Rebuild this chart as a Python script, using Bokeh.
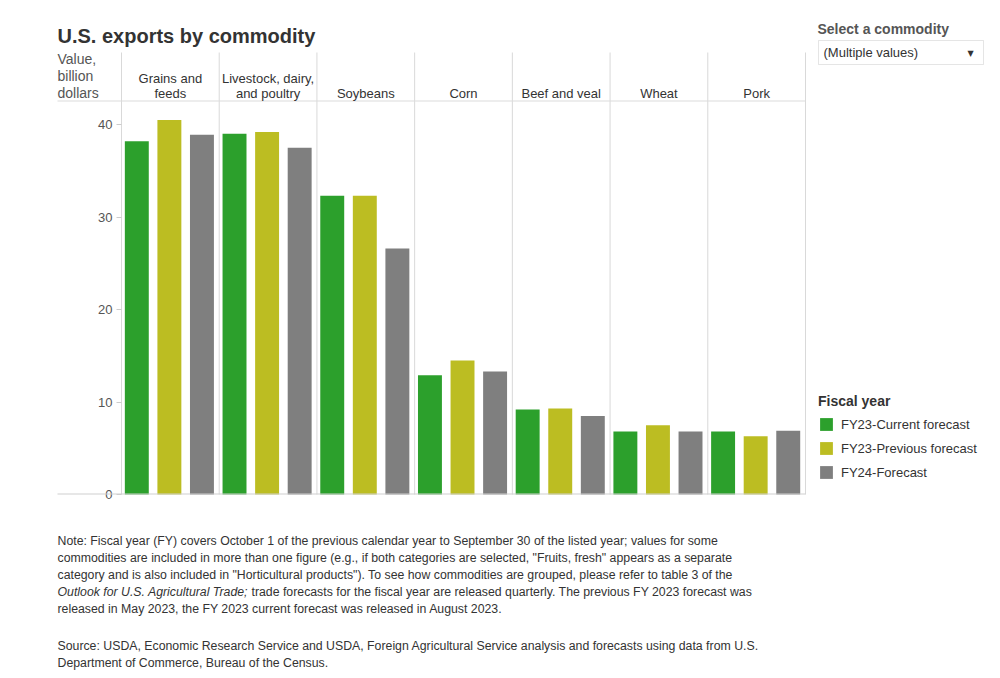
import numpy as np
from bokeh.plotting import figure
from bokeh.models import (Range1d, FixedTicker, Label, BoxAnnotation,
                          Legend, LegendItem, ColumnDataSource)
from bokeh.embed import file_html
from bokeh.resources import INLINE

# ---- data ----
commodities = ["Grains and\nfeeds", "Livestock, dairy,\nand poultry", "Soybeans",
               "Corn", "Beef and veal", "Wheat", "Pork"]
series = ["FY23-Current forecast", "FY23-Previous forecast", "FY24-Forecast"]
fy23_current = [38.2, 39.0, 32.3, 12.9, 9.2, 6.8, 6.8]
fy23_previous = [40.5, 39.2, 32.3, 14.5, 9.3, 7.5, 6.3]
fy24_forecast = [38.9, 37.5, 26.6, 13.3, 8.5, 6.8, 6.9]
y_ticks = [0, 10, 20, 30, 40]
colors = ["#2ca02c", "#bcbd22", "#7f7f7f"]

title_text = "U.S. exports by commodity"
y_title = ["Value,", "billion", "dollars"]
note_lines = [
    "Note: Fiscal year (FY) covers October 1 of the previous calendar year to September 30 of the listed year; values for some",
    "commodities are included in more than one figure (e.g., if both categories are selected, \"Fruits, fresh\" appears as a separate",
    "category and is also included in \"Horticultural products\"). To see how commodities are grouped, please refer to table 3 of the",
    None,
    "released in May 2023, the FY 2023 current forecast was released in August 2023.",
]
note_italic = "Outlook for U.S. Agricultural Trade;"
note_after_italic = "trade forecasts for the fiscal year are released quarterly. The previous FY 2023 forecast was"
source_lines = [
    "Source: USDA, Economic Research Service and USDA, Foreign Agricultural Service analysis and forecasts using data from U.S.",
    "Department of Commerce, Bureau of the Census.",
]

FONT = "Liberation Sans"
NOTE_SIZE = "12.3px"
W, H = 992, 670
FRAME_L = 45                     # frame left edge (axis panel to its left)
PANEL_L, PANEL_R = 121, 805      # page x of the panel block
BASE_Y, TOP_Y = 494, 52          # page y of baseline and header top
PW = (PANEL_R - PANEL_L) / len(commodities)   # px per category
PY = 9.25                        # px per billion dollars

p = figure(width=W, height=H, output_backend="svg", toolbar_location=None,
           x_range=Range1d((FRAME_L - PANEL_L) / PW, (W - PANEL_L) / PW),
           y_range=Range1d((BASE_Y - H) / PY, BASE_Y / PY),
           x_axis_location=None, title=None,
           min_border_left=FRAME_L, min_border_right=0,
           min_border_top=0, min_border_bottom=0)
p.outline_line_color = None
p.xgrid.visible = False
p.ygrid.visible = False
p.background_fill_color = "white"
p.border_fill_color = "white"

yax = p.yaxis[0]
yax.fixed_location = 0
yax.ticker = FixedTicker(ticks=y_ticks)
yax.axis_line_color = None
yax.major_tick_line_color = "#cccccc"
yax.major_tick_out = 5
yax.major_tick_in = 0
yax.minor_tick_line_color = None
yax.major_label_text_font = FONT
yax.major_label_text_font_size = "13px"
yax.major_label_text_color = "#555555"
yax.major_label_standoff = 4


def sx(px):
    return px - FRAME_L


def sy(py):
    return H - py


def dy(py):
    return (BASE_Y - py) / PY


# panel separators
seps = list(range(len(commodities) + 1))
p.segment(x0=seps, x1=seps, y0=[0] * len(seps), y1=[dy(TOP_Y)] * len(seps),
          line_color="#d9d9d9", line_width=1)


def hline(py, color):
    p.add_layout(BoxAnnotation(left=sx(57), right=sx(PANEL_R), top=sy(py - 1), bottom=sy(py),
                               left_units="screen", right_units="screen",
                               top_units="screen", bottom_units="screen",
                               fill_color=color, fill_alpha=1, line_color=None))


hline(101, "#dcdcdc")
hline(BASE_Y, "#d0d0d0")

# bars
idx = np.arange(len(commodities))
renderers = []
for j, (name, vals) in enumerate(zip(series, [fy23_current, fy23_previous, fy24_forecast])):
    src = ColumnDataSource(dict(x=idx + (j + 0.5) / 3.0 - 0.01, top=vals))
    r = p.vbar(x="x", top="top", bottom=0, width=0.245, source=src,
               fill_color=colors[j], line_color=None)
    renderers.append(r)

# headers
for i, c in enumerate(commodities):
    lines = c.split("\n")
    n = len(lines)
    for k, ln in enumerate(lines):
        py = 93 - (n - 1 - k) * 15
        p.add_layout(Label(x=i + 0.5, y=sy(py), x_units="data", y_units="screen",
                           text=ln, text_align="center", text_baseline="middle",
                           text_font=FONT, text_font_size="13px", text_color="#333333"))


def label(px, py, text, size="13px", style="normal", color="#333333", align="left", font=FONT):
    p.add_layout(Label(x=sx(px), y=sy(py), x_units="screen", y_units="screen",
                       text=text, text_align=align, text_baseline="middle",
                       text_font=font, text_font_size=size, text_font_style=style,
                       text_color=color))


# title & y title
label(57, 35, title_text, size="20px", style="bold")
for k, t in enumerate(y_title):
    label(57, 58 + 17 * k, t, size="14px", color="#555555")

# selector mock
label(817, 28, "Select a commodity", size="14px", style="bold", color="#555555")
p.add_layout(BoxAnnotation(left=sx(818), right=sx(983), top=sy(40), bottom=sy(64),
                           left_units="screen", right_units="screen",
                           top_units="screen", bottom_units="screen",
                           fill_color="white", fill_alpha=1, line_color="#a8a8a8", line_width=1))
label(823, 52, "(Multiple values)")
label(970, 53, "\u25BC", size="8px", align="center", font="DejaVu Sans")

# legend
legend = Legend(items=[LegendItem(label=s, renderers=[r]) for s, r in zip(series, renderers)],
                location=(sx(818), sy(480)), title="Fiscal year",
                title_text_font=FONT, title_text_font_size="14px", title_text_font_style="bold",
                title_text_color="#333333", title_standoff=7,
                label_text_font=FONT, label_text_font_size="13px", label_text_color="#333333",
                glyph_width=16, glyph_height=16, spacing=8, padding=0, margin=0,
                border_line_color=None, background_fill_alpha=0, label_standoff=7)
p.add_layout(legend, "center")

# notes
for k, ln in enumerate(note_lines):
    if ln is not None:
        label(57, 540 + 17 * k, ln, size=NOTE_SIZE)
label(57, 591, note_italic, size=NOTE_SIZE, style="italic")
label(251, 591, note_after_italic, size=NOTE_SIZE)
for k, ln in enumerate(source_lines):
    label(57, 645 + 17 * k, ln, size=NOTE_SIZE)

open("out.html", "w").write(file_html(p, INLINE))
